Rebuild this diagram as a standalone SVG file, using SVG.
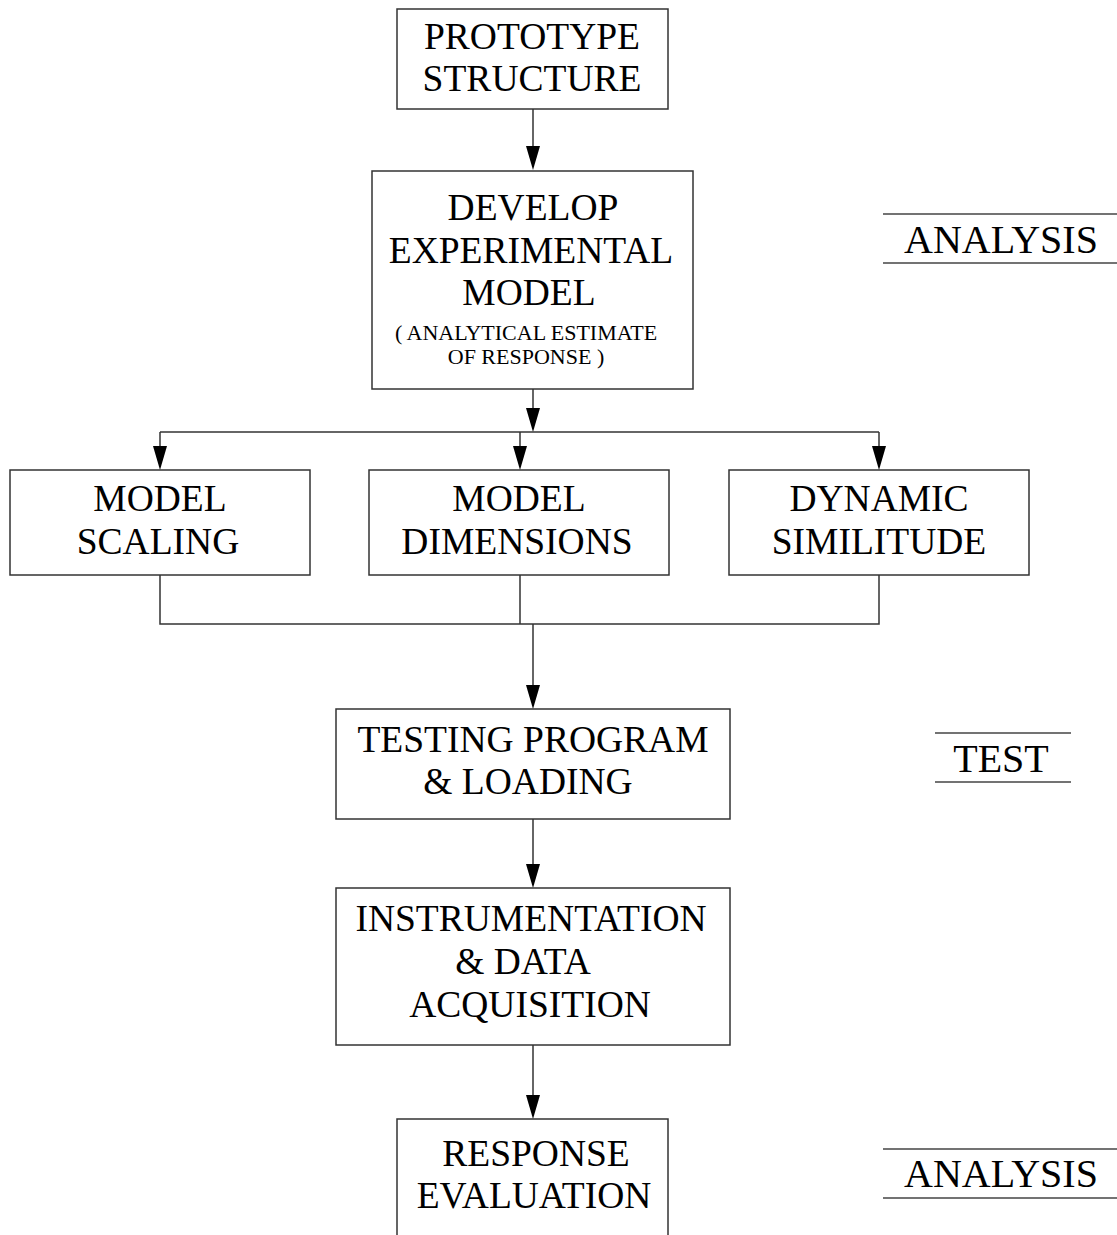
<svg xmlns="http://www.w3.org/2000/svg" width="1117" height="1235" viewBox="0 0 1117 1235">
<style>
.box{fill:#fff;stroke:#333;stroke-width:1.5}
.t{font-family:"Liberation Serif","Times New Roman",serif;font-size:37.5px;fill:#000;text-anchor:middle}
.s{font-family:"Liberation Serif","Times New Roman",serif;font-size:22px;fill:#000;text-anchor:middle}
.l{font-family:"Liberation Serif","Times New Roman",serif;font-size:40px;fill:#000;text-anchor:middle}
.c{fill:none;stroke:#333;stroke-width:1.5}
.ah{fill:#000}
.rule{stroke:#444;stroke-width:1.5}
</style>
<rect width="1117" height="1235" fill="#fff"/>
<g id="connectors">
<line class="c" x1="533" y1="109" x2="533" y2="150"/>
<path class="ah" d="M526,146 L540,146 L533,170 Z"/>
<line class="c" x1="533" y1="389" x2="533" y2="410"/>
<path class="ah" d="M526,408 L540,408 L533,432 Z"/>
<line class="c" x1="160" y1="432" x2="879" y2="432"/>
<line class="c" x1="160" y1="432" x2="160" y2="450"/>
<path class="ah" d="M153,446 L167,446 L160,470 Z"/>
<line class="c" x1="520" y1="432" x2="520" y2="450"/>
<path class="ah" d="M513,446 L527,446 L520,470 Z"/>
<line class="c" x1="879" y1="432" x2="879" y2="450"/>
<path class="ah" d="M872,446 L886,446 L879,470 Z"/>
<path class="c" d="M160,575 V624 H879 V575 M520,575 V624"/>
<line class="c" x1="533" y1="624" x2="533" y2="690"/>
<path class="ah" d="M526,685 L540,685 L533,709 Z"/>
<line class="c" x1="533" y1="819" x2="533" y2="870"/>
<path class="ah" d="M526,864 L540,864 L533,888 Z"/>
<line class="c" x1="533" y1="1045" x2="533" y2="1100"/>
<path class="ah" d="M526,1095 L540,1095 L533,1119 Z"/>
</g>
<g id="prototype">
<rect class="box" x="397" y="9" width="271" height="100"/>
<text class="t" x="532" y="49">PROTOTYPE</text>
<text class="t" x="532" y="91">STRUCTURE</text>
</g>
<g id="develop">
<rect class="box" x="372" y="171" width="321" height="218"/>
<text class="t" x="533" y="220">DEVELOP</text>
<text class="t" x="531" y="263">EXPERIMENTAL</text>
<text class="t" x="529" y="305">MODEL</text>
<text class="s" x="526" y="340">( ANALYTICAL ESTIMATE</text>
<text class="s" x="526" y="364">OF RESPONSE )</text>
</g>
<g id="scaling">
<rect class="box" x="10" y="470" width="300" height="105"/>
<text class="t" x="160" y="511">MODEL</text>
<text class="t" x="158" y="554">SCALING</text>
</g>
<g id="dimensions">
<rect class="box" x="369" y="470" width="300" height="105"/>
<text class="t" x="519" y="511">MODEL</text>
<text class="t" x="517" y="554">DIMENSIONS</text>
</g>
<g id="similitude">
<rect class="box" x="729" y="470" width="300" height="105"/>
<text class="t" x="879" y="511">DYNAMIC</text>
<text class="t" x="879" y="554">SIMILITUDE</text>
</g>
<g id="testing">
<rect class="box" x="336" y="709" width="394" height="110"/>
<text class="t" x="533" y="752">TESTING PROGRAM</text>
<text class="t" x="528" y="794">&amp; LOADING</text>
</g>
<g id="instrumentation">
<rect class="box" x="336" y="888" width="394" height="157"/>
<text class="t" x="531" y="931">INSTRUMENTATION</text>
<text class="t" x="523" y="974">&amp; DATA</text>
<text class="t" x="530" y="1017">ACQUISITION</text>
</g>
<g id="response">
<rect class="box" x="397" y="1119" width="271" height="140"/>
<text class="t" x="536" y="1166">RESPONSE</text>
<text class="t" x="534" y="1208">EVALUATION</text>
</g>
<g id="label-analysis-1">
<line class="rule" x1="883" y1="214" x2="1117" y2="214"/>
<line class="rule" x1="883" y1="263" x2="1117" y2="263"/>
<text class="l" x="1001" y="253">ANALYSIS</text>
</g>
<g id="label-test">
<line class="rule" x1="935" y1="733" x2="1071" y2="733"/>
<line class="rule" x1="935" y1="782" x2="1071" y2="782"/>
<text class="l" x="1001" y="772">TEST</text>
</g>
<g id="label-analysis-2">
<line class="rule" x1="883" y1="1149" x2="1117" y2="1149"/>
<line class="rule" x1="883" y1="1198" x2="1117" y2="1198"/>
<text class="l" x="1001" y="1187">ANALYSIS</text>
</g>
</svg>
